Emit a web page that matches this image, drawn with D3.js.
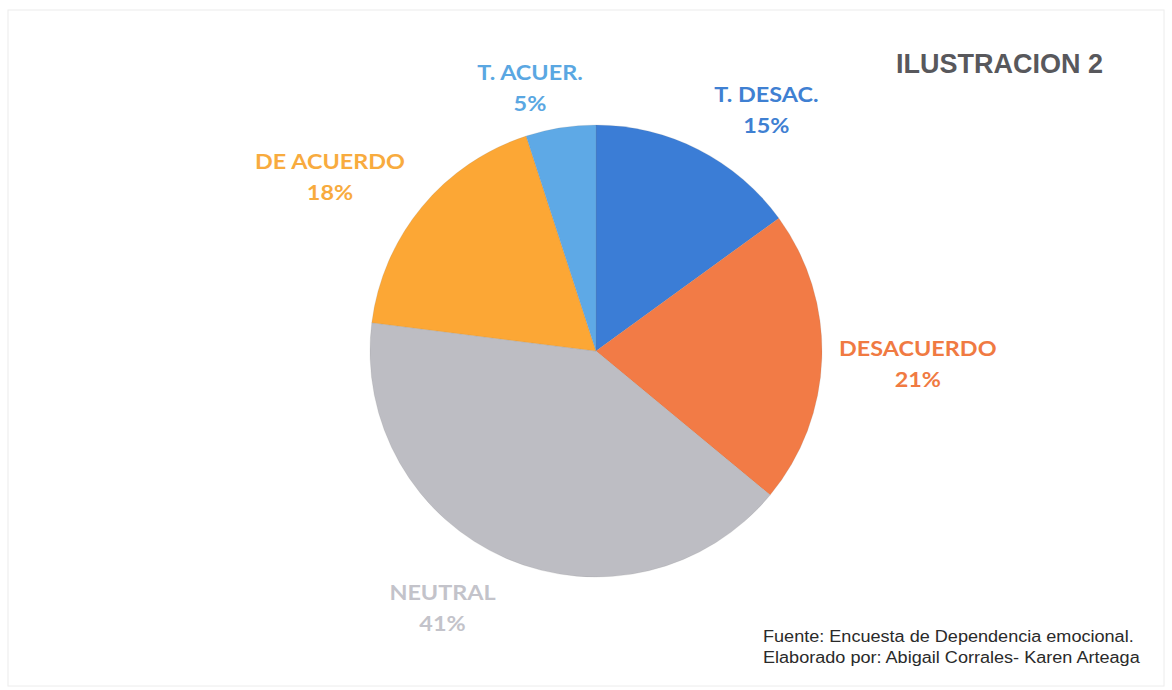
<!DOCTYPE html>
<html>
<head>
<meta charset="utf-8">
<script src="https://cdn.jsdelivr.net/npm/d3@7"></script>
<style>
  body { margin: 0; background: #fff; }
  svg { display: block; }
</style>
</head>
<body>
<div id="vis"></div>
<script>
var width = 1172,
    height = 690;

// data, clockwise from 12 o'clock
var categories = ["T. DESAC.", "DESACUERDO", "NEUTRAL", "DE ACUERDO", "T. ACUER."];
var values = [15, 21, 41, 18, 5];
var sliceColors = ["#3b7dd6", "#f27b46", "#bdbdc3", "#fca735", "#5ea9e6"];
var labelColors = ["#3f80d2", "#f07a42", "#c3c3ca", "#f8ab3e", "#5aa7e2"];

// label placement: angle (deg, clockwise from top) and distance from centre
var labelAngle = [35, 92, 211, 303.5, 346];
var labelDist = [297, 322, 298, 319, 273];

var cx = 596, cy = 351, radius = 226;

var svg = d3.select("#vis").append("svg")
    .attr("width", width)
    .attr("height", height);

// faint scan frame
svg.append("rect")
    .attr("x", 8).attr("y", 10)
    .attr("width", width - 16).attr("height", height - 14)
    .attr("fill", "none")
    .attr("stroke", "#ececec");

var pie = d3.pie().sort(null).value(function(d) { return d; });
var arc = d3.arc().innerRadius(0).outerRadius(radius);

var g = svg.append("g")
    .attr("transform", "translate(" + cx + "," + cy + ")");

g.selectAll("path")
    .data(pie(values))
    .enter()
    .append("path")
    .attr("d", arc)
    .attr("fill", function(d, i) { return sliceColors[i]; })
    .attr("stroke", "rgba(120,120,120,0.25)")
    .attr("stroke-width", 0.6);

//--------LABELS--------//
// the scanned labels are a bit wider than Lato, so stretch them a little
var labels = g.selectAll(".lbl")
    .data(pie(values))
    .enter()
    .append("text")
    .attr("class", "lbl")
    .attr("text-anchor", "middle")
    .attr("font-family", "Lato, 'Open Sans', sans-serif")
    .attr("font-weight", "bold")
    .attr("font-size", 20)
    .attr("fill", function(d, i) { return labelColors[i]; })
    .attr("transform", function(d, i) {
        var a = labelAngle[i] * Math.PI / 180;
        return "translate(" + (labelDist[i] * Math.sin(a)) + "," + (-labelDist[i] * Math.cos(a)) + ") scale(1.17,1)";
    });

labels.append("tspan")
    .attr("x", 0)
    .attr("dy", "-0.3em")
    .text(function(d, i) { return categories[i]; });

labels.append("tspan")
    .attr("x", 0)
    .attr("dy", "1.55em")
    .text(function(d) { return d.value + "%"; });

//--------TITLE & SOURCE--------//
svg.append("text")
    .attr("x", 1103)
    .attr("y", 73)
    .attr("text-anchor", "end")
    .attr("font-family", "'Liberation Sans', Arial, sans-serif")
    .attr("font-weight", "bold")
    .attr("font-size", 27)
    .attr("fill", "#58585c")
    .text("ILUSTRACION 2");

var source = svg.append("text")
    .attr("transform", "translate(763,0) scale(1.13,1)")
    .attr("font-family", "'Liberation Sans', Arial, sans-serif")
    .attr("font-size", 16)
    .attr("fill", "#2a2a2a");

source.append("tspan").attr("x", 0).attr("y", 642)
    .text("Fuente: Encuesta de Dependencia emocional.");
source.append("tspan").attr("x", 0).attr("y", 663)
    .text("Elaborado por: Abigail Corrales- Karen Arteaga");
</script>
</body>
</html>
